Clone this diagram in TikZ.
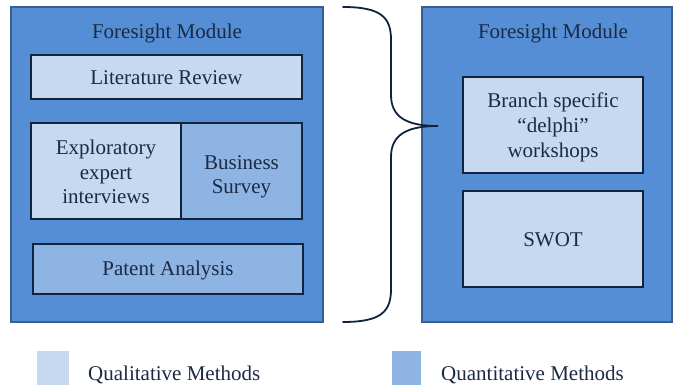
\documentclass[tikz,border=0pt]{standalone}
\usepackage{fontspec}
\setmainfont{Liberation Serif}
\definecolor{modfill}{HTML}{558ED5}
\definecolor{modline}{HTML}{3A5F8C}
\definecolor{qualfill}{HTML}{C6D9F1}
\definecolor{quantfill}{HTML}{8EB4E3}
\definecolor{navy}{HTML}{10233F}
\definecolor{ink}{HTML}{1B2A45}
\begin{document}
\begin{tikzpicture}[x=1pt,y=-1pt,
  every node/.style={text=ink,font=\fontsize{21}{24.5}\selectfont,inner sep=0pt,align=center},
  module/.style={fill=modfill,draw=modline,line width=1.2pt},
  qual/.style={fill=qualfill,draw=navy,line width=2pt},
  quant/.style={fill=quantfill,draw=navy,line width=2pt},
  brace/.style={draw=navy,line width=1.8pt,line cap=round}]
\useasboundingbox (0,0) rectangle (674,385);

% left module
\draw[module] (11,7) rectangle (323,322);
\node (t1) at (167,33.5) {Foresight Module};
\draw[qual] (31,55) rectangle (302,99);
\node (lit) at (166.5,78) {Literature Review};
\draw[qual] (31,123) rectangle (181,219);
\draw[quant] (181,123) rectangle (302,219);
\node (exp) at (106,172) {Exploratory\\expert\\interviews};
\node (bus) at (241.5,177) {Business\\Survey};
\draw[quant] (33,244) rectangle (303,294);
\node (pat) at (168,270.5) {Patent Analysis};

% right module
\draw[module] (422,7) rectangle (672,322);
\node (t2) at (553,33.5) {Foresight Module};
\draw[qual] (463,77) rectangle (643,173);
\node[font=\fontsize{21}{25}\selectfont] (bra) at (553,127.5) {Branch specific\\``delphi''\\workshops};
\draw[qual] (463,191) rectangle (643,287);
\node (swot) at (553,240) {SWOT};

% curly brace
\coordinate (bt) at (343,7);
\coordinate (tip) at (438,126);
\coordinate (bb) at (343,322);
\draw[brace] (bt) .. controls (382,7) and (391,18) .. (391,40)
  -- (391,95) .. controls (391,118) and (408,126) .. (tip)
  .. controls (408,126) and (391,134) .. (391,157)
  -- (391,289) .. controls (391,311) and (382,322) .. (bb);

% legend
\fill[qualfill] (37,351) rectangle (69,385);
\node[anchor=west] (lq) at (88,375) {Qualitative Methods};
\fill[quantfill] (392,351) rectangle (421,385);
\node[anchor=west] (lqn) at (441,375) {Quantitative Methods};
\end{tikzpicture}
\end{document}
